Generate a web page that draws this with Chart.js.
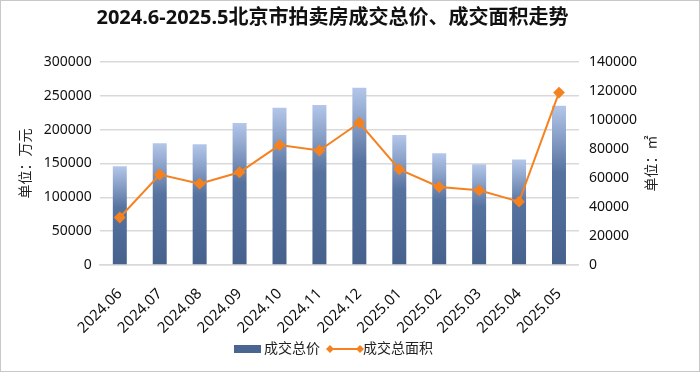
<!DOCTYPE html>
<html>
<head>
<meta charset="utf-8">
<script src="https://cdn.jsdelivr.net/npm/chart.js@4"></script>
<style>
  html, body { margin: 0; padding: 0; background: #fff; }
  #wrap { position: relative; width: 698px; height: 370px; border: 1px solid #c8c8c8; }
</style>
</head>
<body>
<div id="wrap"><canvas id="chart" width="698" height="370"></canvas></div>
<script>
const months = ['2024.06', '2024.07', '2024.08', '2024.09', '2024.10', '2024.11',
  '2024.12', '2025.01', '2025.02', '2025.03', '2025.04', '2025.05'];
// 成交总价（万元）
const totalPrice = [146000, 180000, 178500, 210000, 232500, 236500, 262000, 192000, 165000, 149000, 156000, 235500];
// 成交总面积（㎡）
const totalArea = [32800, 62400, 56100, 64000, 82700, 79000, 98100, 66000, 53800, 51500, 43700, 118900];
const leftTicks = [0, 50000, 100000, 150000, 200000, 250000, 300000];
const rightTicks = [0, 20000, 40000, 60000, 80000, 100000, 120000, 140000];

const FONT = '"Noto Sans", "Noto Sans CJK SC", sans-serif';
const ORANGE = '#f5821f';

function barGradient(context) {
  const chart = context.chart;
  const { chartArea } = chart;
  if (!chartArea || context.parsed === undefined) return '#4b6591';
  const y = chart.scales.y;
  const top = y.getPixelForValue(context.parsed.y);
  const bottom = y.getPixelForValue(0);
  const g = chart.ctx.createLinearGradient(0, top, 0, bottom);
  g.addColorStop(0, '#b4c7ea');
  g.addColorStop(0.42, '#56729f');
  g.addColorStop(1, '#46618c');
  return g;
}

// 右侧坐标轴标题 + 底部图例
const extras = {
  id: 'extras',
  afterDraw(chart) {
    const ctx = chart.ctx;
    const area = chart.chartArea;
    ctx.save();
    ctx.fillStyle = '#222';
    ctx.font = '14px ' + FONT;
    ctx.textAlign = 'center';
    ctx.textBaseline = 'middle';
    ctx.translate(651, (area.top + area.bottom) / 2);
    ctx.rotate(-Math.PI / 2);
    ctx.fillText('单位：㎡', 0, 0);
    ctx.restore();

    // legend
    const ly = 348;
    ctx.save();
    ctx.font = '14px ' + FONT;
    ctx.textBaseline = 'middle';
    ctx.fillStyle = '#4b6591';
    ctx.fillRect(233, ly - 4, 27, 8);
    ctx.fillStyle = '#222';
    ctx.fillText('成交总价', 263, ly);
    ctx.strokeStyle = ORANGE;
    ctx.lineWidth = 2;
    ctx.beginPath();
    ctx.moveTo(329, ly);
    ctx.lineTo(359, ly);
    ctx.stroke();
    ctx.fillStyle = ORANGE;
    [329, 359].forEach(x => {
      ctx.beginPath();
      ctx.moveTo(x, ly - 4);
      ctx.lineTo(x + 4, ly);
      ctx.lineTo(x, ly + 4);
      ctx.lineTo(x - 4, ly);
      ctx.closePath();
      ctx.fill();
    });
    ctx.fillStyle = '#222';
    ctx.fillText('成交总面积', 362, ly);
    ctx.restore();
  }
};

const plain = v => String(v);

new Chart(document.getElementById('chart'), {
  data: {
    labels: months,
    datasets: [
      {
        type: 'line',
        label: '成交总面积',
        data: totalArea,
        yAxisID: 'y1',
        borderColor: ORANGE,
        backgroundColor: ORANGE,
        borderWidth: 2,
        pointStyle: 'rectRot',
        pointRadius: 4.5,
        pointHoverRadius: 4.5,
        tension: 0,
        order: 0
      },
      {
        type: 'bar',
        label: '成交总价',
        data: totalPrice,
        yAxisID: 'y',
        backgroundColor: barGradient,
        barPercentage: 0.7,
        categoryPercentage: 0.5,
        order: 1
      }
    ]
  },
  options: {
    responsive: false,
    animation: false,
    layout: { padding: { left: 17, right: 52, top: 0, bottom: 22 } },
    plugins: {
      legend: { display: false },
      tooltip: { enabled: false },
      title: {
        display: true,
        text: '2024.6-2025.5北京市拍卖房成交总价、成交面积走势',
        color: '#111',
        font: { family: FONT, size: 20, weight: 'bold' },
        padding: { top: 5, bottom: 32 }
      }
    },
    scales: {
      x: {
        grid: { display: false },
        border: { color: '#d9d9d9', width: 1.5 },
        ticks: {
          color: '#111',
          font: { family: FONT, size: 15 },
          maxRotation: 45,
          minRotation: 45,
          padding: 12
        }
      },
      y: {
        position: 'left',
        min: 0,
        max: 300000,
        afterBuildTicks(axis) { axis.ticks = leftTicks.map(v => ({ value: v })); },
        grid: { color: '#d9d9d9', lineWidth: 1.5, drawTicks: false },
        border: { display: false },
        ticks: { color: '#111', font: { family: FONT, size: 14 }, padding: 8, callback: plain },
        title: {
          display: true,
          text: '单位：万元',
          color: '#222',
          font: { family: FONT, size: 14 },
          padding: { top: 0, bottom: 1 }
        }
      },
      y1: {
        position: 'right',
        min: 0,
        max: 140000,
        afterBuildTicks(axis) { axis.ticks = rightTicks.map(v => ({ value: v })); },
        grid: { display: false, drawTicks: false },
        border: { display: false },
        ticks: { color: '#111', font: { family: FONT, size: 14 }, padding: 10, callback: plain }
      }
    }
  },
  plugins: [extras]
});
</script>
</body>
</html>
